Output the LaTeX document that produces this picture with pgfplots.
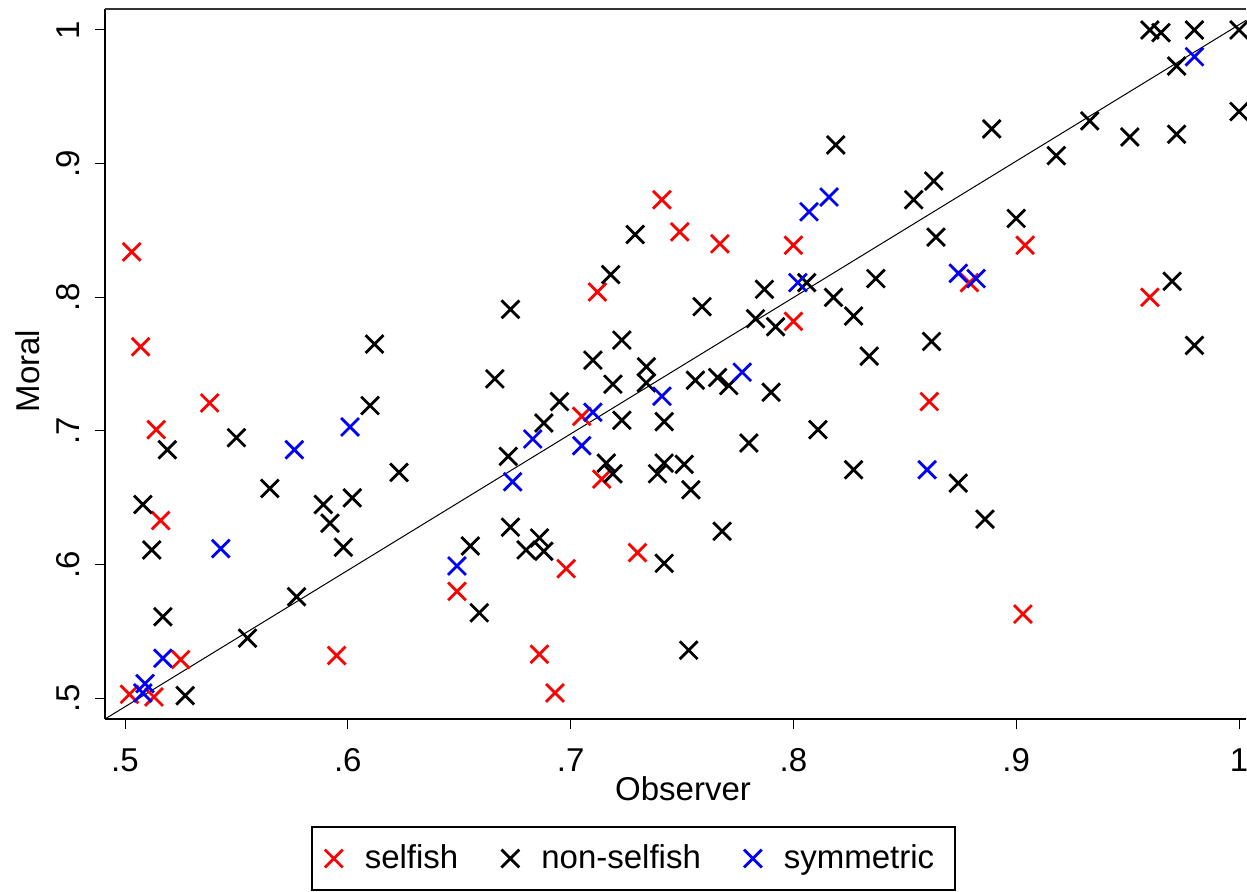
\documentclass[border=0pt]{standalone}
\usepackage{fontspec}
\setmainfont{Liberation Sans}
\usepackage{pgfplots}
\pgfplotsset{compat=1.18}
\usepackage{pgfplotstable}

% selfish
\pgfplotstableread{
x y
0.503 0.834
0.507 0.763
0.514 0.701
0.516 0.633
0.538 0.721
0.502 0.503
0.513 0.501
0.525 0.529
0.595 0.532
0.649 0.580
0.686 0.533
0.693 0.504
0.698 0.597
0.730 0.609
0.705 0.711
0.714 0.664
0.712 0.804
0.741 0.873
0.749 0.849
0.767 0.840
0.800 0.839
0.800 0.782
0.879 0.811
0.861 0.722
0.904 0.839
0.903 0.563
0.960 0.800
}\selfish

% non-selfish
\pgfplotstableread{
x y
0.960 1.000
0.965 0.998
0.980 1.000
1.000 1.000
0.972 0.973
1.000 0.939
0.972 0.922
0.951 0.920
0.933 0.932
0.918 0.906
0.889 0.926
0.863 0.887
0.854 0.873
0.900 0.859
0.864 0.845
0.819 0.914
0.729 0.847
0.837 0.814
0.834 0.756
0.862 0.767
0.970 0.812
0.980 0.764
0.874 0.661
0.886 0.634
0.718 0.817
0.673 0.791
0.759 0.793
0.787 0.806
0.806 0.811
0.818 0.800
0.783 0.784
0.792 0.778
0.827 0.786
0.723 0.768
0.710 0.753
0.734 0.748
0.734 0.736
0.666 0.739
0.719 0.735
0.756 0.738
0.766 0.740
0.771 0.734
0.790 0.729
0.695 0.722
0.688 0.706
0.723 0.708
0.742 0.707
0.811 0.701
0.780 0.691
0.672 0.681
0.716 0.676
0.719 0.668
0.739 0.668
0.742 0.676
0.751 0.675
0.827 0.671
0.754 0.656
0.673 0.628
0.686 0.620
0.680 0.611
0.688 0.610
0.742 0.601
0.768 0.625
0.753 0.536
0.508 0.645
0.512 0.611
0.517 0.561
0.527 0.502
0.555 0.545
0.577 0.576
0.565 0.657
0.589 0.645
0.602 0.650
0.592 0.631
0.598 0.613
0.655 0.614
0.659 0.564
0.612 0.765
0.610 0.719
0.550 0.695
0.519 0.686
0.623 0.669
}\nonselfish

% symmetric
\pgfplotstableread{
x y
0.543 0.612
0.517 0.530
0.509 0.511
0.508 0.504
0.649 0.599
0.576 0.686
0.601 0.703
0.674 0.662
0.683 0.694
0.705 0.689
0.710 0.714
0.741 0.726
0.777 0.744
0.802 0.811
0.807 0.864
0.816 0.875
0.874 0.818
0.882 0.814
0.860 0.671
0.980 0.980
}\symmetric

\begin{document}
\begin{tikzpicture}
\useasboundingbox (-52.5pt,-86pt) rectangle (571pt,359.5pt);
\begin{axis}[
    at={(0pt,0pt)}, anchor=south west,
    scale only axis,
    width=570.5pt, height=355pt,
    xmin=0.49102, xmax=1.00314,
    ymin=0.48451, ymax=1.01571,
    axis x line*=bottom, axis y line*=left,
    axis line style={line width=0.85pt},
    tick align=outside,
    major tick length=5pt,
    tick style={line width=0.5pt, black},
    xtick={0.5,0.6,0.7,0.8,0.9,1},
    xticklabels={.5,.6,.7,.8,.9,1},
    ytick={0.5,0.6,0.7,0.8,0.9,1},
    yticklabels={.5,.6,.7,.8,.9,1},
    font=\fontsize{16.5}{19}\selectfont,
    xticklabel style={anchor=base, yshift=-21pt},
    yticklabel style={xshift=-7.5pt, rotate=90, anchor=base},
    xlabel={Observer},
    ylabel={Moral},
    every axis x label/.style={at={(axis description cs:0.5066,-0.11408)}, anchor=base},
    every axis y label/.style={at={(axis description cs:-0.05697,0.49)}, rotate=90, anchor=base},
    legend columns=3,
    legend image code/.code={\path[draw=none,fill=none] (-8pt,0pt) rectangle (8pt,0.1pt); \draw[#1] plot coordinates {(0pt,0pt)};},
    legend style={at={(0.4632,-0.19648)}, anchor=center, draw=black,
        line width=0.75pt, inner xsep=3pt, inner ysep=7pt,
        /tikz/every odd column/.append style={column sep=5.5pt},
        /tikz/every even column/.append style={column sep=16pt}},
]
\addplot[only marks, mark=x, mark size=6.3pt, red, mark options={line width=1.4pt}] table {\selfish};
\addplot[only marks, mark=x, mark size=6.3pt, black, mark options={line width=1.4pt}] table {\nonselfish};
\addplot[only marks, mark=x, mark size=6.3pt, blue, mark options={line width=1.4pt}] table {\symmetric};
\addplot[black, line width=0.5pt, forget plot] coordinates {(0.4910,0.4845) (1.0034,1.0074)};
\legend{selfish, non-selfish, symmetric\hspace*{5.5pt}}
\draw[line width=1pt, black!80] (rel axis cs:0,1) -- (rel axis cs:1,1);
\end{axis}
\end{tikzpicture}
\end{document}
